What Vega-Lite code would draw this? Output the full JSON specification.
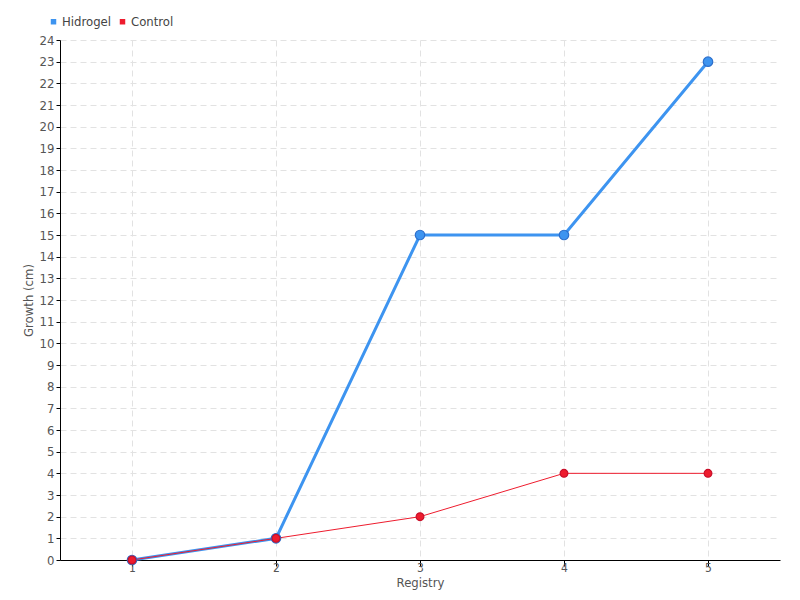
{
  "$schema": "https://vega.github.io/schema/vega-lite/v6.json",
  "width": 720,
  "height": 520,
  "autosize": {"type": "none"},
  "padding": {"left": 60, "top": 40, "right": 20, "bottom": 40},
  "background": "white",
  "config": {
    "font": "DejaVu Sans Condensed, Liberation Sans Narrow, sans-serif",
    "view": {"stroke": null}
  },
  "data": {
    "values": [
      {"registry": "1", "series": "Hidrogel", "growth": 0},
      {"registry": "2", "series": "Hidrogel", "growth": 1},
      {"registry": "3", "series": "Hidrogel", "growth": 15},
      {"registry": "4", "series": "Hidrogel", "growth": 15},
      {"registry": "5", "series": "Hidrogel", "growth": 23},
      {"registry": "1", "series": "Control", "growth": 0},
      {"registry": "2", "series": "Control", "growth": 1},
      {"registry": "3", "series": "Control", "growth": 2},
      {"registry": "4", "series": "Control", "growth": 4},
      {"registry": "5", "series": "Control", "growth": 4}
    ]
  },
  "encoding": {
    "x": {
      "field": "registry", "type": "ordinal",
      "scale": {"type": "point", "padding": 0.5},
      "sort": ["1", "2", "3", "4", "5"],
      "axis": {
        "title": "Registry", "labelAngle": 0, "domainColor": "#000", "tickColor": "#000",
        "tickSize": 6, "labelPadding": -4, "titlePadding": 3, "labelFontSize": 12, "titleFontSize": 13,
        "labelColor": "#555", "titleColor": "#555", "titleFontWeight": "normal",
        "grid": true, "gridDash": [6, 4], "gridColor": "#e2e2e2"
      }
    },
    "y": {
      "field": "growth", "type": "quantitative",
      "scale": {"domain": [0, 24], "nice": false},
      "axis": {
        "title": "Growth (cm)", "values": [0,1,2,3,4,5,6,7,8,9,10,11,12,13,14,15,16,17,18,19,20,21,22,23,24],
        "domainColor": "#000", "tickColor": "#000", "tickSize": 4, "labelPadding": 2, "titlePadding": 4,
        "labelFontSize": 13, "titleFontSize": 13, "labelColor": "#555", "titleColor": "#555",
        "titleFontWeight": "normal", "grid": true, "gridDash": [6, 4], "gridColor": "#e2e2e2"
      }
    },
    "color": {
      "field": "series", "type": "nominal",
      "scale": {"domain": ["Hidrogel", "Control"], "range": ["#3d94f0", "#ee1c2e"]},
      "legend": {
        "title": null, "orient": "none", "legendX": -13, "legendY": -25, "direction": "horizontal",
        "symbolType": "square", "symbolSize": 30, "symbolStrokeWidth": 0, "labelFontSize": 13, "labelColor": "#444",
        "columnPadding": 4, "labelOffset": 2, "symbolOpacity": 1
      }
    }
  },
  "layer": [
    {
      "mark": {"type": "line"},
      "encoding": {
        "strokeWidth": {"condition": {"test": "datum.series === 'Hidrogel'", "value": 3}, "value": 1},
        "order": {"field": "registry"}
      }
    },
    {
      "mark": {"type": "point", "filled": true, "opacity": 1},
      "encoding": {
        "size": {"condition": {"test": "datum.series === 'Hidrogel'", "value": 90}, "value": 60},
        "stroke": {"condition": {"test": "datum.series === 'Hidrogel'", "value": "#2c6fcc"}, "value": "#c8102a"},
        "strokeWidth": {"value": 1.2}
      }
    }
  ]
}
